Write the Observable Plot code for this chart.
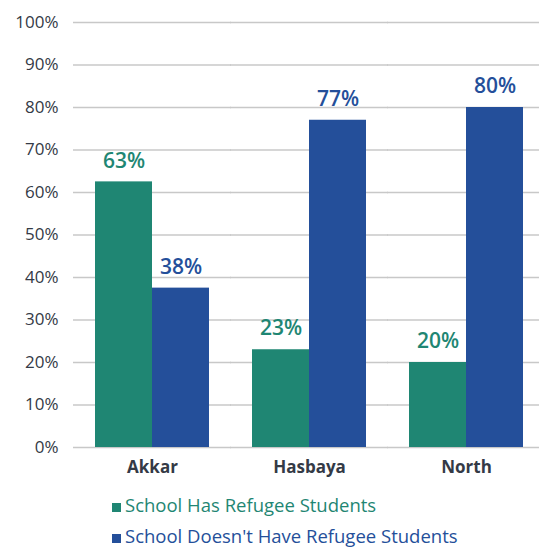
<!DOCTYPE html>
<html>
<head>
<meta charset="utf-8">
<script src="https://cdn.jsdelivr.net/npm/d3@7"></script>
<script src="https://cdn.jsdelivr.net/npm/@observablehq/plot@0.6"></script>
<style>
  html, body { margin: 0; background: #fff; font-family: "Open Sans", sans-serif; }
  #chart { width: 539px; overflow: hidden; }
  #chart svg { display: block; max-width: none !important; }
  .legend { margin-top: 7px; padding-left: 112px; font-size: 18.5px; line-height: 31px; }
  .legend .item { white-space: nowrap; }
  .legend .sw { display: inline-block; width: 9px; height: 9px; margin-right: 4px; vertical-align: 0px; }
</style>
</head>
<body>
<div id="chart"></div>
<script>
const categories = ["Akkar", "Hasbaya", "North"];
const series = ["School Has Refugee Students", "School Doesn't Have Refugee Students"];
const hasRefugees = [62.5, 23, 20];
const noRefugees = [37.5, 77, 80];
const colors = ["#1f8673", "#244f9a"];
const yTicks = [0, 10, 20, 30, 40, 50, 60, 70, 80, 90, 100];

const data = [];
categories.forEach((c, i) => {
  data.push({region: c, series: series[0], value: hasRefugees[i]});
  data.push({region: c, series: series[1], value: noRefugees[i]});
});

const chart = Plot.plot({
  width: 544,
  height: 482,
  marginLeft: 73,
  marginRight: 0,
  marginTop: 22,
  marginBottom: 35,
  style: {fontFamily: "Open Sans, sans-serif", background: "transparent", maxWidth: "none"},
  fx: {domain: categories, paddingInner: 0.274, paddingOuter: 0.137, label: null},
  x: {domain: series, padding: 0, axis: null},
  y: {domain: [0, 100], label: null},
  color: {domain: series, range: colors},
  marks: [
    Plot.ruleY(yTicks, {stroke: "#c8c8c8", strokeWidth: 1.5, insetLeft: -22, insetRight: -22}),
    Plot.barY(data, {fx: "region", x: "series", y: "value", fill: "series"}),
    Plot.text(data, {fx: "region", x: "series", y: "value", text: d => Math.round(d.value) + "%",
      fill: "series", dy: -21, fontSize: 21, fontWeight: 600}),
    Plot.axisY(yTicks, {tickSize: 0, tickPadding: 37, tickFormat: d => d + "%", fontSize: 17, fill: "#343a46", label: null}),
    Plot.axisFx({anchor: "bottom", tickSize: 0, tickPadding: 13, fontSize: 17, fontWeight: 700, fill: "#343a46", label: null})
  ]
});
chart.style.maxWidth = "none";
document.getElementById("chart").appendChild(chart);

const legend = document.createElement("div");
legend.className = "legend";
series.forEach((s, i) => {
  const item = document.createElement("div");
  item.className = "item";
  item.style.color = colors[i];
  const sw = document.createElement("span");
  sw.className = "sw";
  sw.style.background = colors[i];
  item.appendChild(sw);
  item.appendChild(document.createTextNode(s));
  legend.appendChild(item);
});
document.body.appendChild(legend);
</script>
</body>
</html>
